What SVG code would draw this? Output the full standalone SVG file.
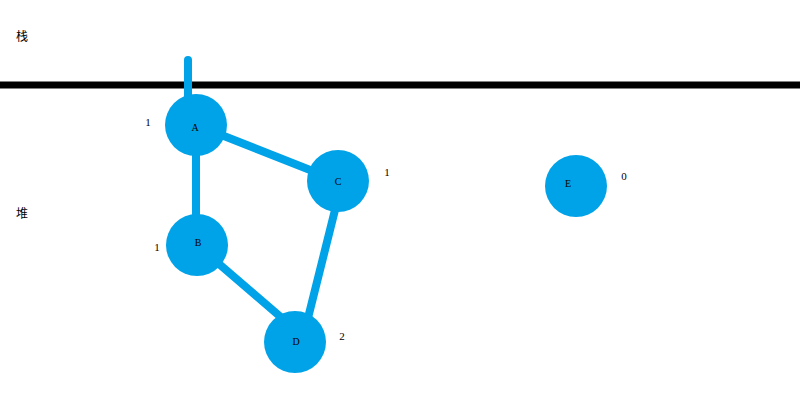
<svg xmlns="http://www.w3.org/2000/svg" width="800" height="400" viewBox="0 0 800 400">
<style>
.edge{stroke:#00a2e8;stroke-width:8;fill:none;stroke-linecap:round}
.node{fill:#00a2e8}
.nl{font-family:"Liberation Serif",serif;font-size:10px;fill:#000;text-anchor:middle}
.cnt{font-family:"Liberation Serif",serif;font-size:11px;fill:#000;text-anchor:middle}
.zh{font-family:"Noto Sans CJK SC",sans-serif;font-size:12px;fill:#000;text-anchor:middle}
</style>
<rect width="800" height="400" fill="#fff"/>
<text class="zh" x="22" y="41">栈</text>
<text class="zh" x="22" y="218">堆</text>
<line x1="0" y1="85" x2="800" y2="85" stroke="#000" stroke-width="7"/>
<g id="connectors">
<line class="edge" x1="188" y1="60" x2="188" y2="110"/>
<line class="edge" x1="196" y1="125" x2="338" y2="181"/>
<line class="edge" x1="196" y1="125" x2="196" y2="245"/>
<line class="edge" x1="197" y1="245" x2="290" y2="325"/>
<line class="edge" x1="340" y1="190" x2="308" y2="318"/>
</g>
<g id="A"><circle class="node" cx="196" cy="125" r="31"/><text class="nl" x="195" y="131">A</text><text class="cnt" x="148" y="126">1</text></g>
<g id="C"><circle class="node" cx="338" cy="181" r="31"/><text class="nl" x="338" y="185">C</text><text class="cnt" x="387" y="176">1</text></g>
<g id="B"><circle class="node" cx="197" cy="245" r="31"/><text class="nl" x="198" y="246">B</text><text class="cnt" x="157" y="251">1</text></g>
<g id="D"><circle class="node" cx="295" cy="342" r="31"/><text class="nl" x="296" y="345">D</text><text class="cnt" x="342" y="340">2</text></g>
<g id="E"><circle class="node" cx="576" cy="186" r="31"/><text class="nl" x="568" y="187">E</text><text class="cnt" x="624" y="180">0</text></g>
</svg>
